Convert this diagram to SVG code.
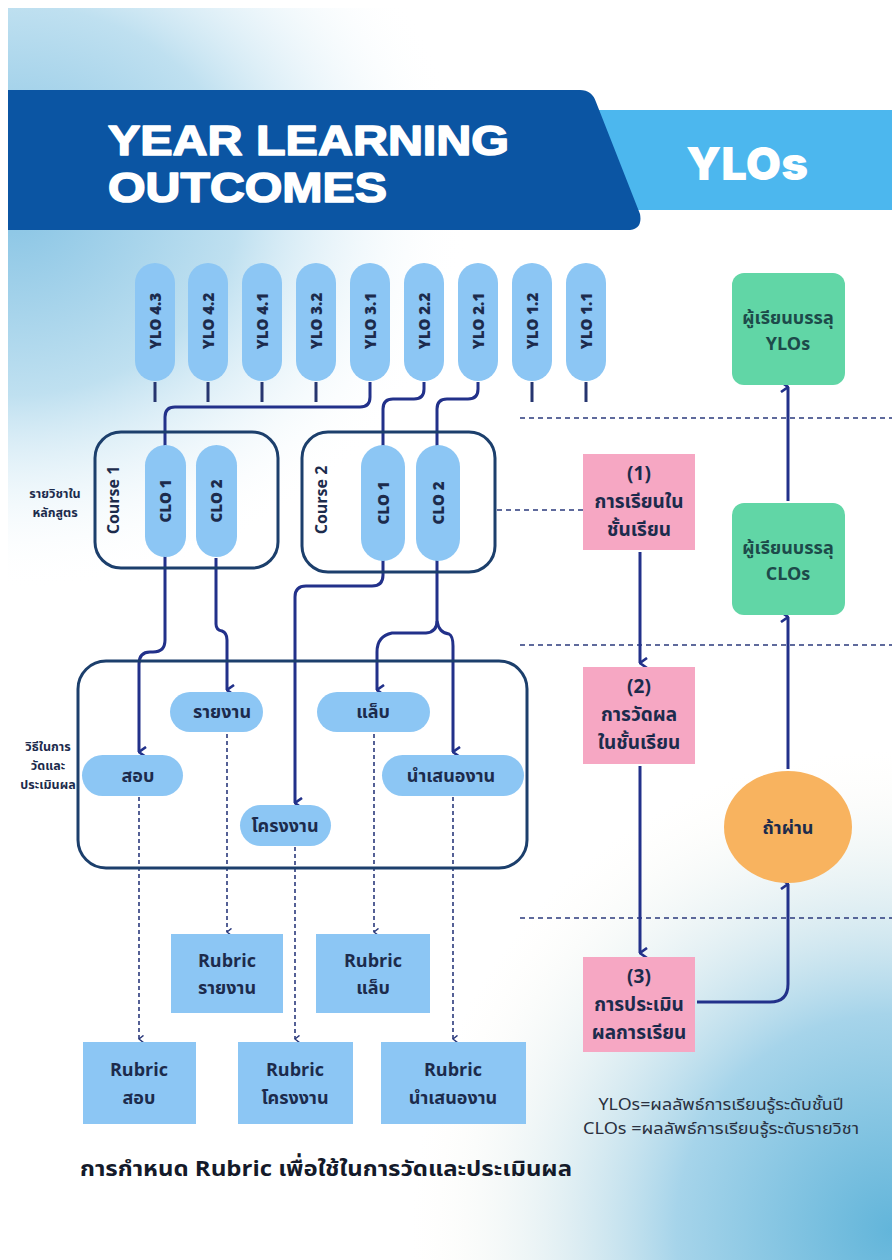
<svg xmlns="http://www.w3.org/2000/svg" width="892" height="1260" viewBox="0 0 892 1260">
<defs>
<radialGradient id="bgTL" cx="10" cy="200" r="460" gradientUnits="userSpaceOnUse" gradientTransform="translate(10 200) scale(1 0.85) translate(-10 -200)">
<stop offset="0" stop-color="#86c3e4"/>
<stop offset="0.5" stop-color="#bfe0f0"/>
<stop offset="1" stop-color="#ffffff" stop-opacity="0"/>
</radialGradient>
<radialGradient id="bgBR" cx="892" cy="1230" r="480" gradientUnits="userSpaceOnUse">
<stop offset="0" stop-color="#62b5da"/>
<stop offset="0.45" stop-color="#a6d4ea"/>
<stop offset="1" stop-color="#fdf8ec" stop-opacity="0"/>
</radialGradient>
<marker id="arr" viewBox="0 0 12 12" refX="6" refY="11" markerWidth="12" markerHeight="12" markerUnits="userSpaceOnUse" orient="auto">
<path d="M1,4 L6,11 L11,4" fill="none" stroke="#22318a" stroke-width="2.6"/>
</marker>
<marker id="arrs" viewBox="0 0 10 10" refX="5" refY="9" markerWidth="9" markerHeight="9" markerUnits="userSpaceOnUse" orient="auto">
<path d="M1,4 L5,9 L9,4" fill="none" stroke="#2b3a7c" stroke-width="1.6"/>
</marker>
</defs>
<style>
.pill{fill:#8cc6f4;}
.ptxt{font-family:"Open Sans","Noto Sans",sans-serif;font-weight:800;font-size:15px;fill:#1c2b4c;text-anchor:middle;}
.mtxt{font-family:"Noto Sans Thai","Noto Sans",sans-serif;font-weight:700;font-size:18px;fill:#1c2b4c;text-anchor:middle;}
.ptk{font-family:"Noto Sans Thai","Noto Sans",sans-serif;font-weight:700;font-size:19px;fill:#1c2b4c;text-anchor:middle;}
.box{fill:none;stroke:#1c3f6c;stroke-width:3;}
.rub{fill:#8cc6f4;}
.pink{fill:#f6a7c3;}
.green{fill:#61d6a6;}
.gtxt{font-family:"Noto Sans Thai","Noto Sans",sans-serif;font-weight:700;font-size:18px;fill:#1d4a4a;text-anchor:middle;}
.lbl{font-family:"Noto Sans Thai","Noto Sans",sans-serif;font-weight:700;font-size:12.5px;fill:#1c2b4c;text-anchor:middle;}
.con{fill:none;stroke:#22318a;stroke-width:3;}
.stub{fill:none;stroke:#26356f;stroke-width:3;}
.dash{fill:none;stroke:#2b3a7c;stroke-width:1.6;stroke-dasharray:4 3;}
.sep{fill:none;stroke:#2b3a7c;stroke-width:1.6;stroke-dasharray:5 4;}
.ttl{font-family:"Liberation Sans",Arial,sans-serif;font-weight:700;font-size:42px;fill:#ffffff;stroke:#ffffff;stroke-width:1.6;stroke-linejoin:round;}
</style>

<!-- background -->
<rect x="0" y="0" width="892" height="1260" fill="#ffffff"/>
<rect x="8" y="8" width="884" height="1252" fill="url(#bgTL)"/>
<rect x="8" y="8" width="884" height="1252" fill="url(#bgBR)"/>

<!-- header -->
<g id="header">
<rect x="560" y="110" width="332" height="100" fill="#4cb7ee"/>
<path d="M8,90 L580,90 Q592,90 596,102 L640,214 Q643,230 627,230 L8,230 Z" fill="#0b55a3"/>
<text class="ttl" x="108" y="155" textLength="401" lengthAdjust="spacingAndGlyphs">YEAR LEARNING</text>
<text class="ttl" x="108" y="202" textLength="279" lengthAdjust="spacingAndGlyphs">OUTCOMES</text>
<text x="686" y="180" font-family="Inter,Lato,'Open Sans',sans-serif" font-weight="900" font-size="46" fill="#ffffff" textLength="122" lengthAdjust="spacingAndGlyphs">YLOs</text>
</g>

<!-- connectors -->
<g id="connectors">
<path class="stub" d="M155,382 L155,402 M208,382 L208,402 M262,382 L262,402 M316,382 L316,402 M532,382 L532,402 M586,382 L586,402"/>
<path class="con" d="M370,382 L370,397 Q370,407 360,407 L175,407 Q165,407 165,417 L165,447"/>
<path class="con" d="M424,382 L424,389 Q424,399 414,399 L393,399 Q383,399 383,409 L383,447"/>
<path class="con" d="M478,382 L478,389 Q478,399 468,399 L447,399 Q437,399 437,409 L437,447"/>
<path class="con" d="M165,555 L165,640 Q165,652 153,652 L150,652 Q139,652 139,664 L139,752" marker-end="url(#arr)"/>
<path class="con" d="M216,558 L216,624 Q216,630 222,631 Q227,633 227,640 L227,690" marker-end="url(#arr)"/>
<path class="con" d="M383,560 L383,575 Q383,586 372,586 L306,586 Q295,586 295,597 L295,803" marker-end="url(#arr)"/>
<path class="con" d="M437,560 L437,621 Q437,632 426,633 L392,633 Q377,636 377,652 L377,690" marker-end="url(#arr)"/>
<path class="con" d="M437,621 Q439,633 449,634 Q453,636 453,646 L453,752" marker-end="url(#arr)"/>
<path class="dash" d="M139,797 L139,1039" marker-end="url(#arrs)"/>
<path class="dash" d="M227,734 L227,932" marker-end="url(#arrs)"/>
<path class="dash" d="M295,847 L295,1039" marker-end="url(#arrs)"/>
<path class="dash" d="M374,734 L374,932" marker-end="url(#arrs)"/>
<path class="dash" d="M453,797 L453,1039" marker-end="url(#arrs)"/>
<path class="sep" d="M520,418 L892,418 M520,645 L892,645 M520,918 L892,918"/>
<path class="sep" d="M497,510 L583,510"/>
<path class="con" d="M640,552 L640,663" marker-end="url(#arr)"/>
<path class="con" d="M640,766 L640,953" marker-end="url(#arr)"/>
<path class="con" d="M697,1002 L770,1002 Q788,1002 788,984 L788,884" marker-end="url(#arr)"/>
<path class="con" d="M788,769 L788,617" marker-end="url(#arr)"/>
<path class="con" d="M788,501 L788,387" marker-end="url(#arr)"/>
</g>

<!-- YLO pills -->
<g id="ylo43"><rect class="pill" x="135" y="263" width="40" height="118" rx="20"/><text class="ptxt" transform="translate(161,321) rotate(-90)">YLO 4.3</text></g>
<g id="ylo42"><rect class="pill" x="188" y="263" width="40" height="118" rx="20"/><text class="ptxt" transform="translate(214,321) rotate(-90)">YLO 4.2</text></g>
<g id="ylo41"><rect class="pill" x="242" y="263" width="40" height="118" rx="20"/><text class="ptxt" transform="translate(268,321) rotate(-90)">YLO 4.1</text></g>
<g id="ylo32"><rect class="pill" x="296" y="263" width="40" height="118" rx="20"/><text class="ptxt" transform="translate(322,321) rotate(-90)">YLO 3.2</text></g>
<g id="ylo31"><rect class="pill" x="350" y="263" width="40" height="118" rx="20"/><text class="ptxt" transform="translate(376,321) rotate(-90)">YLO 3.1</text></g>
<g id="ylo22"><rect class="pill" x="404" y="263" width="40" height="118" rx="20"/><text class="ptxt" transform="translate(430,321) rotate(-90)">YLO 2.2</text></g>
<g id="ylo21"><rect class="pill" x="458" y="263" width="40" height="118" rx="20"/><text class="ptxt" transform="translate(484,321) rotate(-90)">YLO 2.1</text></g>
<g id="ylo12"><rect class="pill" x="512" y="263" width="40" height="118" rx="20"/><text class="ptxt" transform="translate(538,321) rotate(-90)">YLO 1.2</text></g>
<g id="ylo11"><rect class="pill" x="566" y="263" width="40" height="118" rx="20"/><text class="ptxt" transform="translate(592,321) rotate(-90)">YLO 1.1</text></g>

<!-- courses -->
<g id="course1">
<rect class="box" x="95" y="432" width="183" height="136" rx="26"/>
<text transform="translate(119,500) rotate(-90)" text-anchor="middle" font-family="'Open Sans','Noto Sans',sans-serif" font-weight="700" font-size="16" fill="#1c2b4c">Course 1</text>
<g id="c1clo1"><rect class="pill" x="145" y="445" width="41" height="112" rx="20.5"/><text class="ptxt" transform="translate(171,501) rotate(-90)">CLO 1</text></g>
<g id="c1clo2"><rect class="pill" x="196" y="445" width="41" height="112" rx="20.5"/><text class="ptxt" transform="translate(222,501) rotate(-90)">CLO 2</text></g>
</g>
<g id="course2">
<rect class="box" x="302" y="432" width="193" height="140" rx="26"/>
<text transform="translate(327,500) rotate(-90)" text-anchor="middle" font-family="'Open Sans','Noto Sans',sans-serif" font-weight="700" font-size="16" fill="#1c2b4c">Course 2</text>
<g id="c2clo1"><rect class="pill" x="361" y="445" width="44" height="116" rx="22"/><text class="ptxt" transform="translate(389,503) rotate(-90)">CLO 1</text></g>
<g id="c2clo2"><rect class="pill" x="416" y="445" width="44" height="116" rx="22"/><text class="ptxt" transform="translate(444,503) rotate(-90)">CLO 2</text></g>
</g>
<g id="lbl-course"><text class="lbl" x="55" y="498">รายวิชาใน</text><text class="lbl" x="55" y="517">หลักสูตร</text></g>

<!-- methods -->
<g id="methods"><rect class="box" x="78" y="661" width="449" height="207" rx="28"/></g>
<g id="m-report"><rect class="pill" x="170" y="692" width="93" height="40" rx="20"/><text class="mtxt" x="222" y="718">รายงาน</text></g>
<g id="m-lab"><rect class="pill" x="317" y="692" width="113" height="40" rx="20"/><text class="mtxt" x="373" y="718">แล็บ</text></g>
<g id="m-exam"><rect class="pill" x="82" y="755" width="101" height="41" rx="20.5"/><text class="mtxt" x="138" y="782">สอบ</text></g>
<g id="m-present"><rect class="pill" x="382" y="755" width="142" height="41" rx="20.5"/><text class="mtxt" x="451" y="782">นำเสนองาน</text></g>
<g id="m-project"><rect class="pill" x="240" y="805" width="91" height="41" rx="20.5"/><text class="mtxt" x="285" y="832">โครงงาน</text></g>
<g id="lbl-method"><text class="lbl" x="48" y="751">วิธีในการ</text><text class="lbl" x="48" y="770">วัดและ</text><text class="lbl" x="48" y="789">ประเมินผล</text></g>

<!-- rubrics -->
<g id="r-report"><rect class="rub" x="171" y="934" width="112" height="79"/><text class="mtxt" x="227" y="967">Rubric</text><text class="mtxt" x="227" y="994">รายงาน</text></g>
<g id="r-lab"><rect class="rub" x="316" y="934" width="114" height="79"/><text class="mtxt" x="373" y="967">Rubric</text><text class="mtxt" x="373" y="994">แล็บ</text></g>
<g id="r-exam"><rect class="rub" x="83" y="1042" width="113" height="82"/><text class="mtxt" x="139" y="1076">Rubric</text><text class="mtxt" x="139" y="1104">สอบ</text></g>
<g id="r-project"><rect class="rub" x="238" y="1042" width="115" height="82"/><text class="mtxt" x="295" y="1076">Rubric</text><text class="mtxt" x="295" y="1104">โครงงาน</text></g>
<g id="r-present"><rect class="rub" x="381" y="1042" width="145" height="82"/><text class="mtxt" x="453" y="1076">Rubric</text><text class="mtxt" x="453" y="1104">นำเสนองาน</text></g>

<text x="80" y="1176" font-family="'Noto Sans Thai','Noto Sans',sans-serif" font-weight="700" font-size="22" fill="#141a2a" textLength="492" lengthAdjust="spacingAndGlyphs">การกำหนด Rubric เพื่อใช้ในการวัดและประเมินผล</text>

<!-- right column -->
<g id="g-ylo"><rect class="green" x="732" y="273" width="113" height="112" rx="12"/><text class="gtxt" x="788" y="324">ผู้เรียนบรรลุ</text><text class="gtxt" x="788" y="350">YLOs</text></g>
<g id="g-clo"><rect class="green" x="732" y="503" width="113" height="112" rx="12"/><text class="gtxt" x="788" y="554">ผู้เรียนบรรลุ</text><text class="gtxt" x="788" y="580">CLOs</text></g>
<g id="p1"><rect class="pink" x="583" y="454" width="112" height="96"/><text class="ptk" x="639" y="480">(1)</text><text class="ptk" x="639" y="508">การเรียนใน</text><text class="ptk" x="639" y="536">ชั้นเรียน</text></g>
<g id="p2"><rect class="pink" x="583" y="667" width="112" height="97"/><text class="ptk" x="639" y="693">(2)</text><text class="ptk" x="639" y="721">การวัดผล</text><text class="ptk" x="639" y="749">ในชั้นเรียน</text></g>
<g id="p3"><rect class="pink" x="583" y="957" width="112" height="95"/><text class="ptk" x="639" y="983">(3)</text><text class="ptk" x="639" y="1011">การประเมิน</text><text class="ptk" x="639" y="1039">ผลการเรียน</text></g>
<g id="pass"><ellipse cx="788" cy="827" rx="64" ry="56" fill="#f8b35f"/><text class="gtxt" x="788" y="834" style="fill:#1c2b4c">ถ้าผ่าน</text></g>
<g id="legend" font-family="'Noto Sans Thai','Noto Sans',sans-serif" font-size="16" fill="#2a3040" text-anchor="middle">
<text x="721" y="1110" textLength="245" lengthAdjust="spacingAndGlyphs">YLOs=ผลลัพธ์การเรียนรู้ระดับชั้นปี</text>
<text x="721" y="1134" textLength="276" lengthAdjust="spacingAndGlyphs">CLOs =ผลลัพธ์การเรียนรู้ระดับรายวิชา</text>
</g>
</svg>
